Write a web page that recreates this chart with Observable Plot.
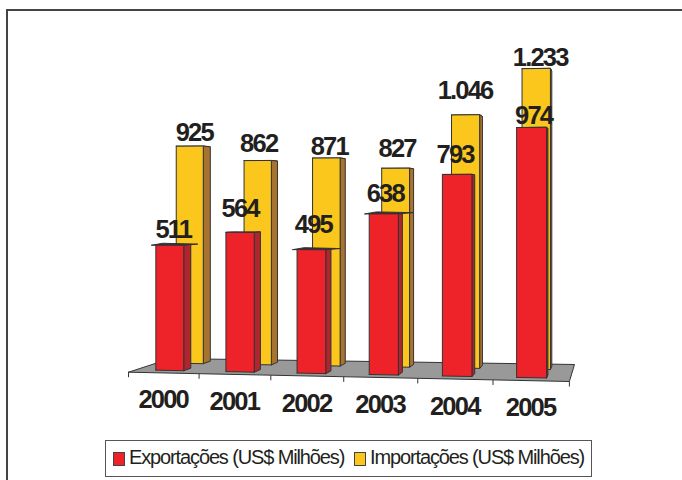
<!DOCTYPE html>
<html><head><meta charset="utf-8">
<script src="https://cdn.jsdelivr.net/npm/d3@7"></script>
<script src="https://cdn.jsdelivr.net/npm/@observablehq/plot@0.6"></script>
<style>
html,body{margin:0;padding:0;background:#fff;overflow:hidden}
#wrap{position:relative;width:682px;height:480px;overflow:hidden;font-family:"Liberation Sans",Arial,sans-serif}
#frame{position:absolute;left:6px;top:9px;width:720px;height:520px;border:2px solid #444;box-sizing:border-box}
#chart{position:absolute;left:0;top:0}
#legend{position:absolute;left:105px;top:440px;width:487px;height:37px;box-sizing:border-box;border:1.5px solid #555;background:#fff;color:#231f20;font-size:20px;letter-spacing:-1.13px;white-space:nowrap}
#legend span{position:absolute;top:5px}
#legend i{position:absolute;top:10.5px;width:12px;height:14px;border:1px solid #444;box-sizing:border-box}
</style></head><body>
<div id="wrap"><div id="frame"></div><div id="chart"></div><div id="legend"></div></div>
<script>
const years = ["2000","2001","2002","2003","2004","2005"];
const exportacoes = [511,564,495,638,793,974];
const importacoes = [925,862,871,827,1046,1233];
const seriesNames = ["Exportações (US$ Milhões)","Importações (US$ Milhões)"];

// layout of the pseudo-3D scene
const red = {front:"#ee2229", side:"#b02630", top:"#5a1a1e"};
const yellow = {front:"#fbc71c", side:"#a8732f", top:"#6a5020"};
const halfW = 0.2, redDepth = [0.18,0.36], yellowDepth = [0.68,0.86];
const barShift = -0.015;
const redLift = [7,15,17,12,11,3];      // label gap above the bar, px
const yellowLift = [5,9,3,11,16,3];
const redNudge = [3.5,0,2,1.5,-2,2];    // label offset from the bar centre, px
const yellowNudge = [4.5,1,3,1.5,-0.5,4];
const sliver = [1,0,1,1,0,0];
const unitsPerPx = 4, catPx = 73.5;

const lerp = (a,b,t)=>a+(b-a)*t;
function project(c,d,v){
  const fx = (70*c+0.58*c*c)/catPx;
  const bx = 0.571+(6.068-0.571)*c/6-(c*(6-c)/9)*2/catPx;
  const fy = -6.2*c, by = 54.8-4*c;
  const k = 0.98+0.0096*(c-0.5)-0.08*(d-0.18)-0.0024*(c-0.5)*(d-0.18)/0.5;
  return {x:lerp(fx,bx,d), y:lerp(fy,by,d)+v*k};
}
const polys = [];
function poly(id,color,pts){
  [...pts,pts[0]].forEach(p=>{const q=project(...p);polys.push({id,color,x:q.x,y:q.y});});
}
poly("floor","#999999",[[0,0,0],[6,0,0],[6,1,0],[0,1,0]]);
function bar(id,i,v,[d0,d1],pal,withSliver){
  const m=i+0.5+barShift,a=m-halfW,b=m+halfW;
  if(withSliver) poly(id+"w",pal.top,[[a-0.06,d0,v],[a+0.1,d0,v+8],[b+0.2,d0,v+5],[b,d0,v]]);
  poly(id+"t",pal.top,[[a,d0,v],[b,d0,v],[b,d1,v],[a,d1,v]]);
  poly(id+"s",pal.side,[[b,d0,0],[b,d1,0],[b,d1,v],[b,d0,v]]);
  poly(id+"f",pal.front,[[a,d0,0],[b,d0,0],[b,d0,v],[a,d0,v]]);
}
years.forEach((y,i)=>bar("y"+i,i,importacoes[i],yellowDepth,yellow,false));
years.forEach((y,i)=>bar("r"+i,i,exportacoes[i],redDepth,red,sliver[i]));

const fmt = d3.formatLocale({decimal:",",thousands:".",grouping:[3],currency:["",""]}).format(",");
const labels = [];
years.forEach((y,i)=>{
  const r=project(i+0.5+barShift,redDepth[0],exportacoes[i]);
  labels.push({t:fmt(exportacoes[i]),x:r.x+redNudge[i]/catPx,y:r.y+redLift[i]*unitsPerPx});
  const m=project(i+0.5+barShift,yellowDepth[0],importacoes[i]);
  labels.push({t:fmt(importacoes[i]),x:m.x+yellowNudge[i]/catPx,y:m.y+yellowLift[i]*unitsPerPx});
});
const ticks = d3.range(0,7).map(c=>{const p=project(c,0,0);return {x:p.x,y1:p.y,y2:p.y-5*unitsPerPx};});
const yearLabels = years.map((y,i)=>{const p=project(i+0.5,0,0);return {t:y,x:p.x-0.5/catPx,y:p.y-35.5*unitsPerPx};});

const chart = Plot.plot({
  width:682,height:440,margin:0,
  x:{domain:[0,6],range:[128,569],axis:null},
  y:{domain:[0,1000],range:[371.7,121.7],axis:null},
  marks:[
    Plot.line(polys,{x:"x",y:"y",z:"id",fill:"color",stroke:"#333",strokeWidth:1,strokeLinejoin:"miter"}),
    Plot.link(ticks,{x1:"x",x2:"x",y1:"y1",y2:"y2",stroke:"#333",strokeWidth:1}),
    Plot.text(yearLabels,{x:"x",y:"y",text:"t",fontSize:25.5,fontWeight:"bold",fill:"#231f20",textAnchor:"middle",lineAnchor:"bottom"}),
    Plot.text(labels,{x:"x",y:"y",text:"t",fontSize:25.5,fontWeight:"bold",fill:"#231f20",textAnchor:"middle",lineAnchor:"bottom"})
  ],
  style:{fontFamily:"'Liberation Sans',Arial,sans-serif",background:"transparent",letterSpacing:"-1.8px"}
});
document.getElementById("chart").appendChild(chart);

const lg=document.getElementById("legend");
[[7,23,red.front],[248,264,yellow.front]].forEach(([sx,tx,col],i)=>{
  const b=document.createElement("i");b.style.left=sx+"px";b.style.background=col;lg.appendChild(b);
  const s=document.createElement("span");s.style.left=tx+"px";s.textContent=seriesNames[i];lg.appendChild(s);
});
</script></body></html>
